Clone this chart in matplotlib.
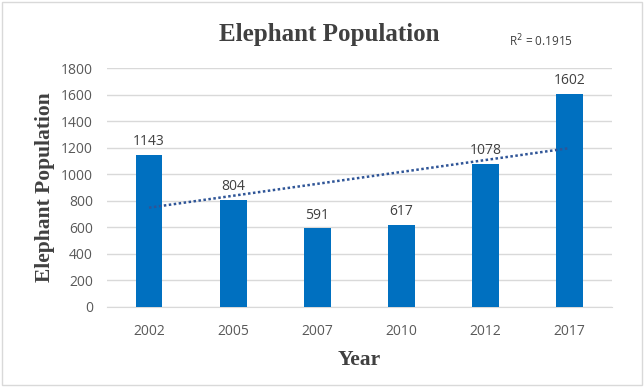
import numpy as np
import matplotlib
matplotlib.use("Agg")
import matplotlib.pyplot as plt
from matplotlib.patches import Rectangle

# data
years = ["2002", "2005", "2007", "2010", "2012", "2017"]
population = [1143, 804, 591, 617, 1078, 1602]
r_squared = "0.1915"

x = np.arange(len(years))

fig = plt.figure(figsize=(6.44, 3.87), dpi=100)
ax = fig.add_axes([0.166, 0.207, 0.784, 0.617])

ax.bar(x, population, width=0.32, color="#0070C0", zorder=3)

# linear trendline (Excel style, x = 1..n)
slope, intercept = np.polyfit(x + 1, population, 1)
ax.plot(x, slope * (x + 1) + intercept, linestyle=(0, (1, 1)), color="#2F5597",
        linewidth=1.8, zorder=4)

for xi, v in zip(x, population):
    ax.text(xi, v + 45, str(v), ha="center", va="bottom", fontsize=10,
            color="#404040", family="Open Sans")

ax.set_xlim(-0.5, 5.5)
ax.set_ylim(0, 1800)
ax.set_yticks(range(0, 1801, 200))
ax.set_xticks(x)
ax.set_xticklabels(years)
ax.grid(axis="y", color="#D9D9D9", linewidth=1, zorder=0)
for s in ["top", "right", "left"]:
    ax.spines[s].set_visible(False)
ax.spines["bottom"].set_color("#D9D9D9")
ax.tick_params(length=0, labelsize=10, labelcolor="#595959")
ax.tick_params(axis="x", pad=12)
ax.tick_params(axis="y", pad=10)
for lbl in ax.get_xticklabels() + ax.get_yticklabels():
    lbl.set_family("Open Sans")

ax.set_ylabel("Elephant Population", family="Liberation Serif", fontweight="bold",
              fontsize=15.5, color="#404040", labelpad=4)
ax.set_xlabel("Year", family="Liberation Serif", fontweight="bold",
              fontsize=15.5, color="#404040", labelpad=8)

fig.text(0.512, 0.912, "Elephant Population", ha="center", va="center",
         family="Liberation Serif", fontweight="bold", fontsize=18, color="#404040")
fig.text(0.79, 0.893, "R$^2$ = " + r_squared, ha="left", va="center",
         family="Open Sans", fontsize=8.5, color="#404040")

fig.patches.append(Rectangle((0.003, 0.005), 0.994, 0.99, transform=fig.transFigure,
                             fill=False, edgecolor="#D9D9D9", linewidth=1))

fig.savefig("out.png", dpi=100)
